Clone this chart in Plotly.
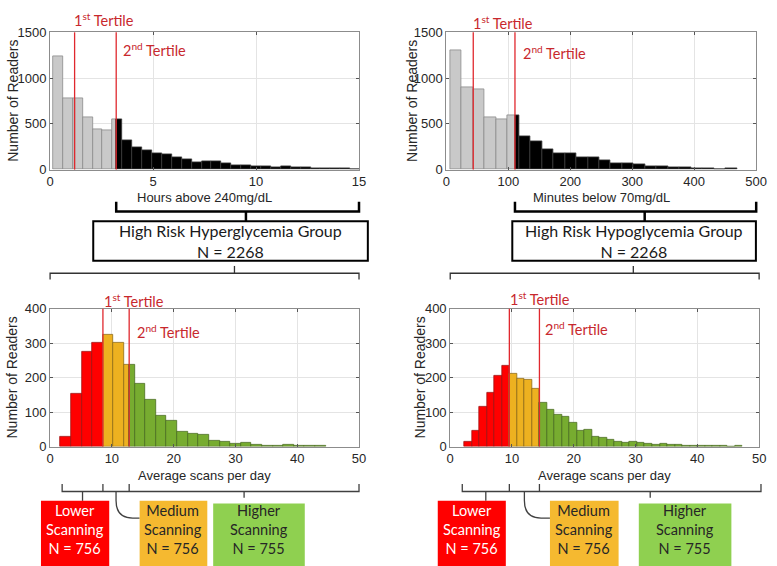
import plotly.graph_objects as go

W, H = 777, 566

# ---------------- data ----------------
hyper_hours_start = 0.143
hyper_hours_width = 0.481
hyper_hours_counts = [1242, 783, 783, 572, 445, 434, 544, 325, 244, 212, 180, 162, 134, 113,
                      75, 88, 85, 72, 47, 47, 40, 35, 28, 35, 22, 20, 16, 14, 12, 10, 7]
hyper_hours_tertiles = [1.19, 3.21]

hypo_min_start = 6.3
hypo_min_width = 18.5
hypo_min_counts = [1302, 896, 879, 572, 551, 596, 360, 307, 222, 180, 176, 131, 138, 99,
                   64, 64, 56, 35, 35, 28, 28, 11, 18, 7, 14]
hypo_min_tertiles = [43.5, 110.8]

hyper_scan_start = 1.685
hyper_scan_width = 1.717
hyper_scan_counts = [29, 153, 275, 301, 324, 301, 237, 181, 135, 89, 74, 42, 37, 33, 17, 13,
                     7, 12, 4, 2, 2, 4, 1, 1, 1]
hyper_scan_tertiles = [8.55, 12.8]
hyper_scan_span = [1.95, 50]

hypo_scan_start = 2.27
hypo_scan_width = 1.217
hypo_scan_counts = [14, 46, 114, 155, 205, 234, 212, 197, 194, 168, 127, 108, 93, 87, 70,
                    47, 50, 29, 24, 19, 14, 11, 14, 11, 8, 5, 8, 4, 5, 3, 3, 2, 1, 1, 1, 0, 3]
hypo_scan_tertiles = [9.57, 14.44]
hypo_scan_span = [1.95, 50.3]

hours_ticks = [0, 5, 10, 15]
minutes_ticks = [0, 100, 200, 300, 400, 500]
top_count_ticks = [0, 500, 1000, 1500]
scan_ticks = [0, 10, 20, 30, 40, 50]
scan_count_ticks = [0, 100, 200, 300, 400]

group_titles = ["High Risk Hyperglycemia Group", "High Risk Hypoglycemia Group"]
group_n = [2268, 2268]
scan_group_names = ["Lower", "Medium", "Higher"]
scan_group_n_hyper = [756, 756, 755]
scan_group_n_hypo = [756, 756, 755]

x_titles = ["Hours above 240mg/dL", "Minutes below 70mg/dL",
            "Average scans per day", "Average scans per day"]
y_title = "Number of Readers"

# ---------------- styling ----------------
GREY, BLACK = "#c9c9c9", "#000000"
RED, ORANGE, GREEN = "#ff0000", "#edb120", "#77ac30"
EDGE = {GREY: "#8a8a8a", BLACK: "#3a3a3a", RED: "#a01010", ORANGE: "#8f6b14", GREEN: "#4a6d1f"}
BOX_COL = {"Lower": "#ff0000", "Medium": "#f5b930", "Higher": "#8fd050"}
BOX_TXT = {"Lower": "#ffffff", "Medium": "#262626", "Higher": "#262626"}
TERT_LINE = "#e0282e"
TERT_TXT = "#c8282d"
TXT_FONT = "Lato"
AX_FONT = "Liberation Sans"

# pixel boxes of the four axes (left, right, top, bottom)
PLOTS = {
    "tl": (47, 362, 26, 167),
    "tr": (451, 767, 26, 167),
    "bl": (47, 362, 310, 451.5),
    "br": (455, 770, 310, 451.5),
}
RANGES = {"tl": (0, 15), "tr": (0, 500), "bl": (0, 50), "br": (0, 50)}
AXN = {"tl": "", "tr": "2", "bl": "3", "br": "4"}


def px2x(px):
    return px / W


def px2y(py):
    return 1 - py / H


def dx(panel, u):
    x0, x1 = PLOTS[panel][:2]
    r0, r1 = RANGES[panel]
    return x0 + (u - r0) / (r1 - r0) * (x1 - x0)


def segments(start, width, counts, cuts, colors):
    out = {}
    for i, n in enumerate(counts):
        lo = start + i * width
        hi = lo + width
        pts = [lo] + [c for c in cuts if lo + 0.03 * width < c < hi - 0.03 * width] + [hi]
        for a, b in zip(pts[:-1], pts[1:]):
            mid = (a + b) / 2
            k = sum(1 for c in cuts if mid > c)
            col = colors[k]
            d = out.setdefault(col, ([], [], []))
            d[0].append(mid)
            d[1].append(b - a)
            d[2].append(n)
    return out


fig = go.Figure()

panels = [
    ("tl", hyper_hours_start, hyper_hours_width, hyper_hours_counts, hyper_hours_tertiles, [GREY, GREY, BLACK]),
    ("tr", hypo_min_start, hypo_min_width, hypo_min_counts, hypo_min_tertiles, [GREY, GREY, BLACK]),
    ("bl", hyper_scan_start, hyper_scan_width, hyper_scan_counts, hyper_scan_tertiles, [RED, ORANGE, GREEN]),
    ("br", hypo_scan_start, hypo_scan_width, hypo_scan_counts, hypo_scan_tertiles, [RED, ORANGE, GREEN]),
]

for key, s, w, cnts, cuts, cols in panels:
    segs = segments(s, w, cnts, cuts, cols)
    for col, (xs, ws, ys) in segs.items():
        fig.add_trace(go.Bar(
            x=xs, y=ys, width=ws, marker=dict(color=col, line=dict(color=EDGE[col], width=0.8)),
            xaxis="x" + AXN[key], yaxis="y" + AXN[key], hoverinfo="skip", showlegend=False))

shapes = []
annotations = []

# axes
layout_axes = {}
xticks = {"tl": hours_ticks, "tr": minutes_ticks, "bl": scan_ticks, "br": scan_ticks}
yticks = {"tl": top_count_ticks, "tr": top_count_ticks, "bl": scan_count_ticks, "br": scan_count_ticks}
yr = {"tl": (0, 1500), "tr": (0, 1500), "bl": (0, 400), "br": (0, 400)}
common = dict(showgrid=True, gridcolor="#e4e4e4", gridwidth=1, zeroline=False,
              showline=True, linecolor="#8c8c8c", linewidth=1, mirror="ticks",
              ticks="inside", ticklen=3, tickcolor="#555555",
              tickfont=dict(family=AX_FONT, size=13, color="#262626"))
for key, (l, r, t, b) in PLOTS.items():
    n = AXN[key]
    layout_axes["xaxis" + n] = dict(common, domain=[px2x(l), px2x(r)], range=list(RANGES[key]),
                                    tickvals=xticks[key], anchor="y" + n)
    layout_axes["yaxis" + n] = dict(common, domain=[px2y(b), px2y(t)], range=list(yr[key]),
                                    tickvals=yticks[key], anchor="x" + n)

# axis titles
x_title_y = {"tl": 196, "tr": 196, "bl": 481, "br": 481}
y_title_x = {"tl": 9, "tr": 416, "bl": 8, "br": 424}
for (key, _, _, _, _, _), xt in zip(panels, x_titles):
    l, r, t, b = PLOTS[key]
    annotations.append(dict(text=xt, x=px2x((l + r) / 2), y=px2y(x_title_y[key]), xref="paper", yref="paper",
                            showarrow=False, xanchor="center", yanchor="middle",
                            font=dict(family=AX_FONT, size=13, color="#262626")))
    annotations.append(dict(text=y_title, x=px2x(y_title_x[key]), y=px2y((t + b) / 2), xref="paper", yref="paper",
                            showarrow=False, textangle=-90, xanchor="center", yanchor="middle",
                            font=dict(family=AX_FONT, size=14, color="#262626")))

# tertile lines and labels
tert_label_pos = {
    "tl": [(-3, 13), (5, 44)],
    "tr": [(-2, 15.5), (6, 47)],
    "bl": [(-1, 301.7), (6, 333)],
    "br": [(-1, 299), (4, 330.7)],
}
for key, s, w, cnts, cuts, cols in panels:
    n = AXN[key]
    for j, c in enumerate(cuts):
        shapes.append(dict(type="line", xref="x" + n, yref="y" + n + " domain", x0=c, x1=c, y0=0, y1=1,
                           line=dict(color=TERT_LINE, width=1.3)))
        shift, py = tert_label_pos[key][j]
        label = "1<sup>st</sup> Tertile" if j == 0 else "2<sup>nd</sup> Tertile"
        annotations.append(dict(text=label, x=c, xref="x" + n, y=px2y(py), yref="paper", showarrow=False,
                                xanchor="left", yanchor="middle", xshift=shift,
                                font=dict(family=TXT_FONT, size=14.5, color=TERT_TXT)))


def path_px(pts, color, width, cmds=None):
    s = ""
    for i, (x, y) in enumerate(pts):
        cmd = "M" if i == 0 else (cmds[i] if cmds else "L")
        s += f"{cmd} {px2x(x):.5f},{px2y(y):.5f} "
    shapes.append(dict(type="path", xref="paper", yref="paper", path=s.strip(),
                       line=dict(color=color, width=width)))


def line_px(x0, y0, x1, y1, color, width):
    shapes.append(dict(type="line", xref="paper", yref="paper", x0=px2x(x0), y0=px2y(y0),
                       x1=px2x(x1), y1=px2y(y1), line=dict(color=color, width=width)))


# top brackets, group boxes, split brackets
groups = [
    ("tl", "bl", hyper_hours_tertiles[1], 15, 246.7, (91, 371), 235),
    ("tr", "br", hypo_min_tertiles[1], 500, 653.3, (518.3, 766.7), 641.7),
]
for (top, bot, a, b, conn, (bx0, bx1), ctick), title, nn in zip(groups, group_titles, group_n):
    xa, xb = dx(top, a), dx(top, b)
    path_px([(xa, 200), (xa, 210), (xb, 210), (xb, 200)], "#000000", 2.5)
    line_px(conn, 210, conn, 220, "#000000", 2.5)
    shapes.append(dict(type="rect", xref="paper", yref="paper", x0=px2x(bx0), x1=px2x(bx1),
                       y0=px2y(260.7), y1=px2y(220), line=dict(color="#000000", width=2), fillcolor="#ffffff"))
    annotations.append(dict(text=f"{title}<br>N = {nn}", x=px2x((bx0 + bx1) / 2), y=px2y(240.4),
                            xref="paper", yref="paper", showarrow=False, xanchor="center", yanchor="middle",
                            font=dict(family=TXT_FONT, size=16, color="#1a1a1a")))
    x0b, x1b = dx(bot, 0), dx(bot, 50)
    path_px([(x0b, 280), (x0b, 273.5), (x1b, 273.5), (x1b, 280)], "#333333", 1.3)
    line_px(ctick, 266, ctick, 273.5, "#333333", 1.3)

# bottom brackets and scanning boxes
bottom = [
    ("bl", hyper_scan_span, hyper_scan_tertiles, scan_group_n_hyper,
     [(37.7, 107.3, 507.3), (138.3, 207.3, 507.3), (213.3, 306.7, 510)]),
    ("br", hypo_scan_span, hypo_scan_tertiles, scan_group_n_hypo,
     [(442.3, 511.7, 507.3), (556.7, 626.7, 507.3), (647.3, 741.7, 510)]),
]
for key, span, tert, ns, boxes in bottom:
    edges = [span[0], tert[0], tert[1], span[1]]
    xs = [dx(key, e) for e in edges]
    path_px([(xs[0], 490), (xs[0], 497.7), (xs[3], 497.7), (xs[3], 490)], "#404040", 1.3)
    for xm in xs[1:3]:
        line_px(xm, 490, xm, 497.7, "#404040", 1.3)
    mids = [dx(key, (edges[i] + edges[i + 1]) / 2) for i in range(3)]
    line_px(mids[0], 497.7, mids[0], boxes[0][2], "#404040", 1.3)
    line_px(mids[2], 497.7, mids[2], 504, "#404040", 1.3)
    mx = boxes[1][0]
    path_px([(mids[1], 497.7), (mids[1], 507), (mids[1], 520), (mids[1] + 6, 525), (mids[1] + 17, 525), (mx, 525)],
            "#404040", 1.3, cmds=["M", "L", "C", "", "", "L"])
    for (x0, x1, ytop), name, nval in zip(boxes, scan_group_names, ns):
        shapes.append(dict(type="rect", xref="paper", yref="paper", x0=px2x(x0), x1=px2x(x1),
                           y0=px2y(575), y1=px2y(ytop), line=dict(width=0), fillcolor=BOX_COL[name]))
        annotations.append(dict(text=f"{name}<br>Scanning<br>N = {nval}", x=px2x((x0 + x1) / 2),
                                y=px2y(536.5 if ytop < 509 else 537.2), xref="paper", yref="paper",
                                showarrow=False, xanchor="center", yanchor="middle",
                                font=dict(family=TXT_FONT, size=14.5, color=BOX_TXT[name])))

fig.update_layout(
    width=W, height=H, margin=dict(l=0, r=0, t=0, b=0),
    paper_bgcolor="#ffffff", plot_bgcolor="#ffffff",
    barmode="overlay", bargap=0, showlegend=False,
    shapes=shapes, annotations=annotations, **layout_axes)

fig.write_html("out.html", config={"displayModeBar": False},
               post_script="document.body.style.margin='0px';document.body.style.padding='0px';document.body.style.overflow='hidden';")
